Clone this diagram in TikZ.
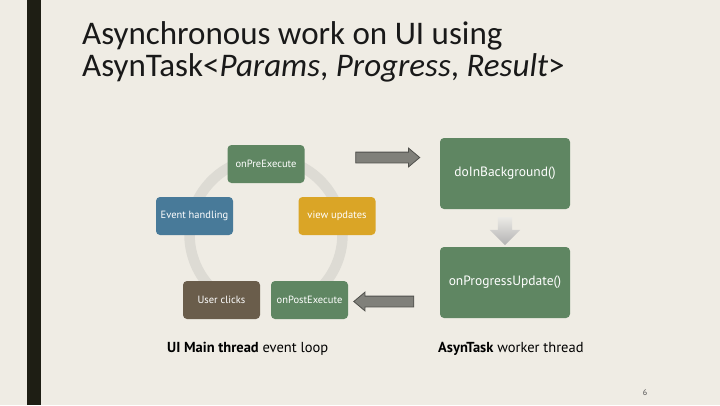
\documentclass[tikz,border=0pt]{standalone}
\usepackage{fontspec}
\setmainfont{Carlito}
\newfontfamily\lblfont{PT Sans}
\usetikzlibrary{shapes.arrows,arrows.meta}
\definecolor{bg}{RGB}{239,236,228}
\definecolor{barc}{RGB}{30,30,20}
\definecolor{grn}{RGB}{95,134,98}
\definecolor{blu}{RGB}{72,122,153}
\definecolor{gld}{RGB}{218,165,38}
\definecolor{brn}{RGB}{106,93,75}
\definecolor{ring}{RGB}{221,219,212}
\definecolor{arrg}{RGB}{128,128,122}
\definecolor{arrb}{RGB}{80,80,76}
\tikzset{
  box/.style={rounded corners=4pt, text=white, font=\lblfont\fontsize{10.5}{12}\selectfont, inner sep=0pt},
  sbox/.style={box, minimum width=77pt, minimum height=38pt},
  bbox/.style={box, fill=grn, minimum width=130pt, minimum height=71pt, font=\lblfont\fontsize{13.5}{15}\selectfont},
  blockarrow/.style={single arrow, draw=arrb, line width=0.8pt, fill=arrg, inner sep=5pt,
     single arrow head extend=4pt, single arrow tip angle=80, minimum height=64pt},
  caption/.style={font=\lblfont\fontsize{14.5}{16}\selectfont, text=black, anchor=west, inner sep=0pt},
  titletext/.style={anchor=base west, inner sep=0pt, font=\fontsize{33}{33}\selectfont, text=black!90}
}
\begin{document}
\begin{tikzpicture}[x=1pt,y=-1pt]
\useasboundingbox (0,0) rectangle (720,405);
\fill[bg] (0,0) rectangle (720,405);
\fill[barc] (27,0) rectangle (41,405);
% title
\node[titletext] (t1) at (82,44) {Asynchronous work on UI using};
\node[titletext] (t2) at (82,76) {AsynTask<\textit{Params}, \textit{Progress}, \textit{Result}>};
% cycle ring
\coordinate (c) at (266,234.5);
\draw[ring, line width=10.5pt] ([shift={(-90:76.5)}]c) arc[start angle=-90, end angle=-226, radius=76.5];
\draw[ring, line width=10.5pt] ([shift={(85:76.5)}]c) arc[start angle=85, end angle=-90, radius=76.5];
\fill[ring] ([shift={(-227:68)}]c) -- ([shift={(-227:85)}]c) -- ([shift={(-240:80)}]c) -- cycle;
% small boxes
\node[sbox, fill=grn] (pre) at (266,164) {onPreExecute};
\node[sbox, fill=blu] (evt) at (194.5,216) {Event handling};
\node[sbox, fill=gld] (view) at (337,216) {view updates};
\node[sbox, fill=brn] (usr) at (221.5,300) {User clicks};
\node[sbox, fill=grn] (post) at (309.5,300) {onPostExecute};
% big boxes
\node[bbox] (bg) at (505,173.5) {doInBackground()};
\node[bbox] (pu) at (505,282.5) {onProgressUpdate()};
% block arrows
\node[blockarrow] (a1) at (384.5,157.5) {};
\node[blockarrow, shape border rotate=180, minimum height=60pt] (a3) at (387,301.5) {};
\node[single arrow, shape border rotate=270, draw=none, top color=ring!60!white, bottom color=black!30,
  inner sep=7pt, single arrow head extend=8pt, single arrow tip angle=90, minimum height=28pt] (a2) at (505,227.5) {};
% captions
\node[caption] (l1) at (167,348.5) {\textbf{UI Main thread} event loop};
\node[caption] (l2) at (438,348.5) {\textbf{AsynTask} worker thread};
\node[font=\lblfont\fontsize{8}{9}\selectfont, text=black!70, inner sep=0pt] (pg) at (645,393) {6};
\end{tikzpicture}
\end{document}
